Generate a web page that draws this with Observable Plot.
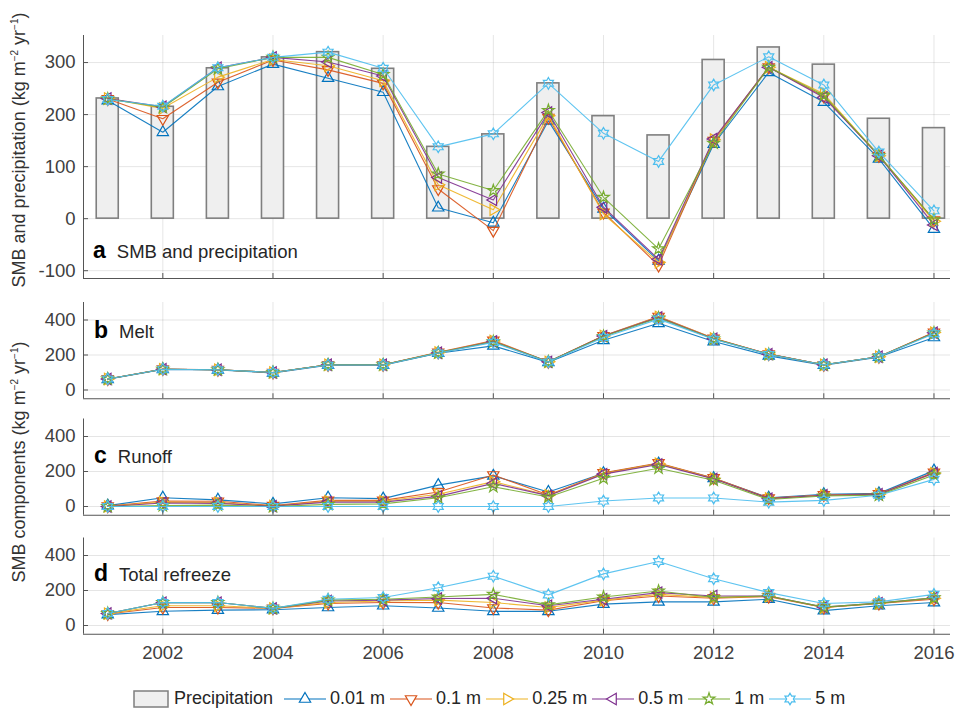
<!DOCTYPE html>
<html><head><meta charset="utf-8">
<script src="https://cdn.jsdelivr.net/npm/d3@7"></script>
<script src="https://cdn.jsdelivr.net/npm/@observablehq/plot@0.6"></script>
<style>
body{margin:0;background:#fff;font-family:"Liberation Sans",Arial,sans-serif;}
#wrap{position:relative;width:961px;height:711px;overflow:hidden;background:#fff;}
.panel{position:absolute;left:0;}
.lab{position:absolute;font-size:18.5px;color:#262626;white-space:nowrap;line-height:24px;}
.lab b{font-size:23px;color:#000;margin-right:11px;}
.ytitle{position:absolute;transform:translate(-50%,-50%) rotate(-90deg);font-size:18px;color:#333;white-space:nowrap;}
#legend{position:absolute;left:133px;top:688px;display:flex;align-items:center;font-size:18px;color:#262626;white-space:nowrap;}
#legend span{margin:0 4px 0 3px;}
</style></head>
<body><div id="wrap"></div>
<script>
// ---------- data ----------
const years = [2001,2002,2003,2004,2005,2006,2007,2008,2009,2010,2011,2012,2013,2014,2015,2016];
const xTickYears = [2002,2004,2006,2008,2010,2012,2014,2016];
const seriesNames = ["0.01 m","0.1 m","0.25 m","0.5 m","1 m","5 m"];

const precipitation = [231,215,289,310,320,288,138,162,260,197,160,305,329,296,192,174];

const smb_001 = [227,166,254,297,270,243,21,-8,188,19,-81,143,281,224,115,-20];
const smb_01  = [230,192,262,305,286,260,57,-23,194,12,-90,150,291,235,121,-3];
const smb_025 = [231,212,272,306,294,265,65,17,198,9,-84,152,291,240,121,-5];
const smb_05  = [231,215,290,310,301,274,79,36,204,22,-78,153,291,233,121,-12];
const smb_1   = [230,214,288,310,310,277,86,54,208,41,-58,145,291,237,121,-2];
const smb_5   = [229,216,290,310,320,289,138,163,260,164,110,257,311,257,128,15];

const melt_001 = [61,118,115,98,142,142,210,252,158,284,381,277,195,142,188,300];
const melt_01  = [63,120,116,100,144,144,215,283,161,310,420,295,205,144,190,330];
const melt_025 = [63,119,116,100,144,144,214,280,161,309,418,294,205,144,190,328];
const melt_05  = [63,119,116,100,144,144,213,278,161,308,415,293,205,144,190,327];
const melt_1   = [63,119,116,100,144,144,212,276,161,306,412,292,204,144,190,326];
const melt_5   = [63,119,116,100,143,143,211,272,160,300,405,290,203,144,190,322];

const runoff_001 = [5,50,38,15,50,45,122,175,83,190,245,161,50,70,75,205];
const runoff_01  = [2,31,30,5,35,35,83,180,66,192,249,163,48,66,72,195];
const runoff_025 = [1,25,22,3,30,30,70,142,64,188,245,160,46,64,70,190];
const runoff_05  = [0,20,18,2,25,25,58,132,62,185,240,158,45,64,70,192];
const runoff_1   = [0,5,8,0,12,15,50,113,54,161,219,150,40,60,65,180];
const runoff_5   = [0,0,0,0,0,0,0,0,0,31,49,49,25,35,64,155];

const refreeze_001 = [62,81,88,90,103,113,100,81,81,122,135,135,150,85,113,131];
const refreeze_01  = [66,103,103,98,126,131,131,100,88,141,169,156,165,103,126,150];
const refreeze_025 = [68,113,113,98,131,140,145,131,103,145,178,160,167,103,126,156];
const refreeze_05  = [69,131,131,98,140,145,154,156,113,150,188,169,169,105,128,158];
const refreeze_1   = [69,131,131,98,145,150,163,178,118,163,197,160,169,105,128,158];
const refreeze_5   = [69,131,131,98,150,160,216,282,175,295,366,267,188,126,135,178];

// ---------- styles ----------
const colors = ["#0072BD","#D95319","#EDB120","#7E2F8E","#77AC30","#4DBEEE"];
const hexagram = {draw(ctx, size){
  const R = Math.sqrt(size)*0.78, r = R/Math.sqrt(3);
  for(let i=0;i<12;i++){const a=Math.PI/6*i-Math.PI/2, rad=i%2?r:R;
    const x=rad*Math.cos(a), y=rad*Math.sin(a); i?ctx.lineTo(x,y):ctx.moveTo(x,y);}
  ctx.closePath();}};
const symbols = ["triangle","triangle","triangle","triangle","star",hexagram];
const rotations = [0,180,90,-90,0,0];
const radii = [4.2,4.2,4.2,4.2,3.7,4.2];
const X_DOMAIN = [2000.56, 2016.3];

const wrap = document.getElementById("wrap");

function toRows(arr){ return years.map((y,i)=>({year:y, value:arr[i]})); }

function panel({top, height, mt, mb, domain, yticks, series, bars, xlabels}){
  const marks = [
    Plot.gridX(xTickYears, {stroke:"#000", strokeOpacity:0.1}),
    Plot.gridY(yticks, {stroke:"#000", strokeOpacity:0.1})
  ];
  if (bars) {
    marks.push(Plot.rectY(toRows(bars), {x1: d=>d.year-0.2, x2: d=>d.year+0.2, y1: 0, y2: "value",
      fill:"#efefef", stroke:"#7f7f7f", strokeWidth:1.6}));
  }
  series.forEach((arr,k)=>{
    const rows = toRows(arr);
    marks.push(Plot.line(rows, {x:"year", y:"value", stroke:colors[k], strokeWidth:1.1, strokeOpacity:0.9}));
    marks.push(Plot.dot(rows, {x:"year", y:"value", symbol:symbols[k], rotate:rotations[k], r: radii[k],
      stroke:colors[k], strokeWidth:1.2, fill:"none"}));
  });
  marks.push(
    Plot.ruleX([X_DOMAIN[0]], {stroke:"#555", strokeWidth:1}),
    Plot.ruleY([domain[0]], {stroke:"#555", strokeWidth:1}),
    Plot.axisX(xTickYears, {tickSize:5, dy:-5, tickFormat:()=>"", label:null, stroke:"#555"}),
    Plot.axisY(yticks, {tickSize:5, dx:5, tickFormat:()=>"", label:null, stroke:"#555"}),
    Plot.axisY(yticks, {tickSize:0, tickPadding:8, tickFormat:d=>String(d), label:null, fill:"#404040"})
  );
  if (xlabels) marks.push(Plot.axisX(xTickYears, {tickSize:0, tickPadding:12, tickFormat:d=>String(d), label:null, fill:"#404040"}));
  const svg = Plot.plot({
    width:961, height, marginLeft:83, marginRight:11, marginTop:mt, marginBottom:mb,
    x:{domain:X_DOMAIN}, y:{domain},
    style:{fontFamily:'"Liberation Sans", Arial, sans-serif', fontSize:"18.5px", color:"#404040", background:"transparent", overflow:"visible"},
    marks
  });
  svg.classList.add("panel");
  svg.style.top = top+"px";
  wrap.appendChild(svg);
}

panel({top:0, height:290, mt:35, mb:12, domain:[-115,352], yticks:[-100,0,100,200,300],
  series:[smb_001,smb_01,smb_025,smb_05,smb_1,smb_5], bars:precipitation});
panel({top:290, height:115, mt:12, mb:6.75, domain:[-50,500], yticks:[0,200,400],
  series:[melt_001,melt_01,melt_025,melt_05,melt_1,melt_5]});
panel({top:405, height:115, mt:13.5, mb:5.25, domain:[-50,500], yticks:[0,200,400],
  series:[runoff_001,runoff_01,runoff_025,runoff_05,runoff_1,runoff_5]});
panel({top:525, height:145, mt:12.5, mb:36.25, domain:[-50,500], yticks:[0,200,400],
  series:[refreeze_001,refreeze_01,refreeze_025,refreeze_05,refreeze_1,refreeze_5], xlabels:true});

// panel labels
function label(letter, text, left, top){
  const d = document.createElement("div"); d.className="lab";
  d.style.left=left+"px"; d.style.top=top+"px";
  d.innerHTML = `<b>${letter}</b>${text}`; wrap.appendChild(d);
}
label("a","SMB and precipitation",93,238);
label("b","Melt",94,318);
label("c","Runoff",94,443);
label("d","Total refreeze",94,561);

function ytitle(text, cx, cy){
  const d=document.createElement("div"); d.className="ytitle";
  d.style.left=cx+"px"; d.style.top=cy+"px"; d.innerHTML=text; wrap.appendChild(d);
}
ytitle("SMB and precipitation (kg m<sup style='font-size:10px'>−2</sup> yr<sup style='font-size:10px'>−1</sup>)",19,150);
ytitle("SMB components (kg m<sup style='font-size:10px'>−2</sup> yr<sup style='font-size:10px'>−1</sup>)",19,462);

// legend
const lg = document.createElement("div"); lg.id="legend";
lg.innerHTML = `<svg width="38" height="20"><rect x="1" y="2" width="34" height="16" fill="#efefef" stroke="#7f7f7f" stroke-width="1.5"/></svg><span style="margin-right:10px">Precipitation</span>`;
seriesNames.forEach((name,k)=>{
  const sym = typeof symbols[k]==="string" ? (symbols[k]==="star"? d3.symbolStar : d3.symbolTriangle) : symbols[k];
  const size = Math.PI*radii[k]**2;
  const path = d3.symbol(sym, size)();
  lg.innerHTML += `<svg width="44" height="20"><line x1="1" x2="43" y1="10" y2="10" stroke="${colors[k]}" stroke-width="1.2"/>`+
    `<path d="${path}" transform="translate(22,10) rotate(${rotations[k]})" fill="#fff" stroke="${colors[k]}" stroke-width="1.2"/></svg><span>${name}</span>`;
});
wrap.appendChild(lg);
</script></body></html>
